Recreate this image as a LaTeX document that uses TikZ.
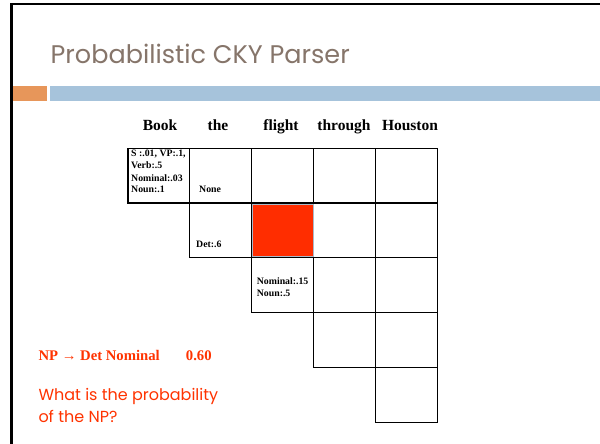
\documentclass[tikz,border=0pt]{standalone}
\usepackage{fontspec}
\setmainfont{Liberation Serif}
\newfontfamily\gothic{Poppins}
\definecolor{titlegray}{RGB}{134,117,106}
\definecolor{barorange}{RGB}{231,150,90}
\definecolor{barblue}{RGB}{166,195,219}
\definecolor{redtext}{RGB}{255,51,0}
\definecolor{cellred}{RGB}{255,45,0}
\definecolor{insetgray}{RGB}{170,185,200}
\tikzset{
  cellbox/.style={draw=black, line width=1.2pt, minimum width=61.85pt,
    minimum height=54.8pt, inner sep=0pt, anchor=north west},
  word/.style={font=\fontsize{15.5}{18}\selectfont\bfseries, anchor=base, inner sep=0pt},
  entry/.style={font=\fontsize{9.8}{12.4}\selectfont\bfseries, align=left,
    anchor=base west, inner sep=0pt},
  rulefont/.style={font=\fontsize{14.7}{17}\selectfont\bfseries, text=redtext,
    anchor=base west, inner sep=0pt},
}
\begin{document}
\begin{tikzpicture}[x=1pt, y=-1pt]
  \useasboundingbox (0,0) rectangle (600,444);
  \fill[white] (0,0) rectangle (600,444);
  % slide frame
  \draw[line width=2.2pt] (11.5,444) -- (11.5,4) -- (600,4);
  % title and rule bars
  \node[anchor=base west, inner sep=0pt, text=titlegray,
    font=\gothic\fontsize{25.5}{30}\selectfont] (title) at (50.5,63.3)
    {Probabilistic CKY Parser};
  \fill[barorange] (13,86) rectangle (47,100.5);
  \fill[barblue] (50,86) rectangle (600,100.5);
  % sentence words
  \node[word] (w0) at (160,130) {Book};
  \node[word] (w1) at (218,130) {the};
  \node[word] (w2) at (281,130) {flight};
  \node[word] (w3) at (344,130) {through};
  \node[word] (w4) at (410,130) {Houston};
  % CKY chart (upper triangle)
  \foreach \i in {0,...,4} {
    \foreach \j in {\i,...,4} {
      \node[cellbox] (c\i\j) at ({127.3+61.85*\j},{147.6+54.8*\i}) {};
    }
  }
  % highlighted cell
  \draw[fill=cellred, draw=insetgray, line width=0.8pt]
    ([shift={(1.6,1.8)}]c12.north west) rectangle ([shift={(-0.4,-1.8)}]c12.south east);
  % chart entries (anchored at the baseline of the last line)
  \node[entry] (e00) at (131,192)
    {S :.01, VP:.1,\\Verb:.5\\[0.5pt]Nominal:.03\\[-2pt]Noun:.1};
  \node[entry] (e01) at (199,192.3) {None};
  \node[entry] (e11) at (196,247.3) {Det:.6};
  \node[entry] (e22) at (256.7,296.7) {Nominal:.15\\Noun:.5};
  % grammar rule and question
  \node[rulefont] (rule) at (38.3,360.7) {NP \textrightarrow{} Det Nominal};
  \node[rulefont] (prob) at (185.7,360.7) {0.60};
  \node[anchor=base west, inner sep=0pt, text=redtext,
    font=\gothic\fontsize{16}{22.7}\selectfont, align=left] (q) at (38.3,422.7)
    {What is the probability\\of the NP?};
\end{tikzpicture}
\end{document}
